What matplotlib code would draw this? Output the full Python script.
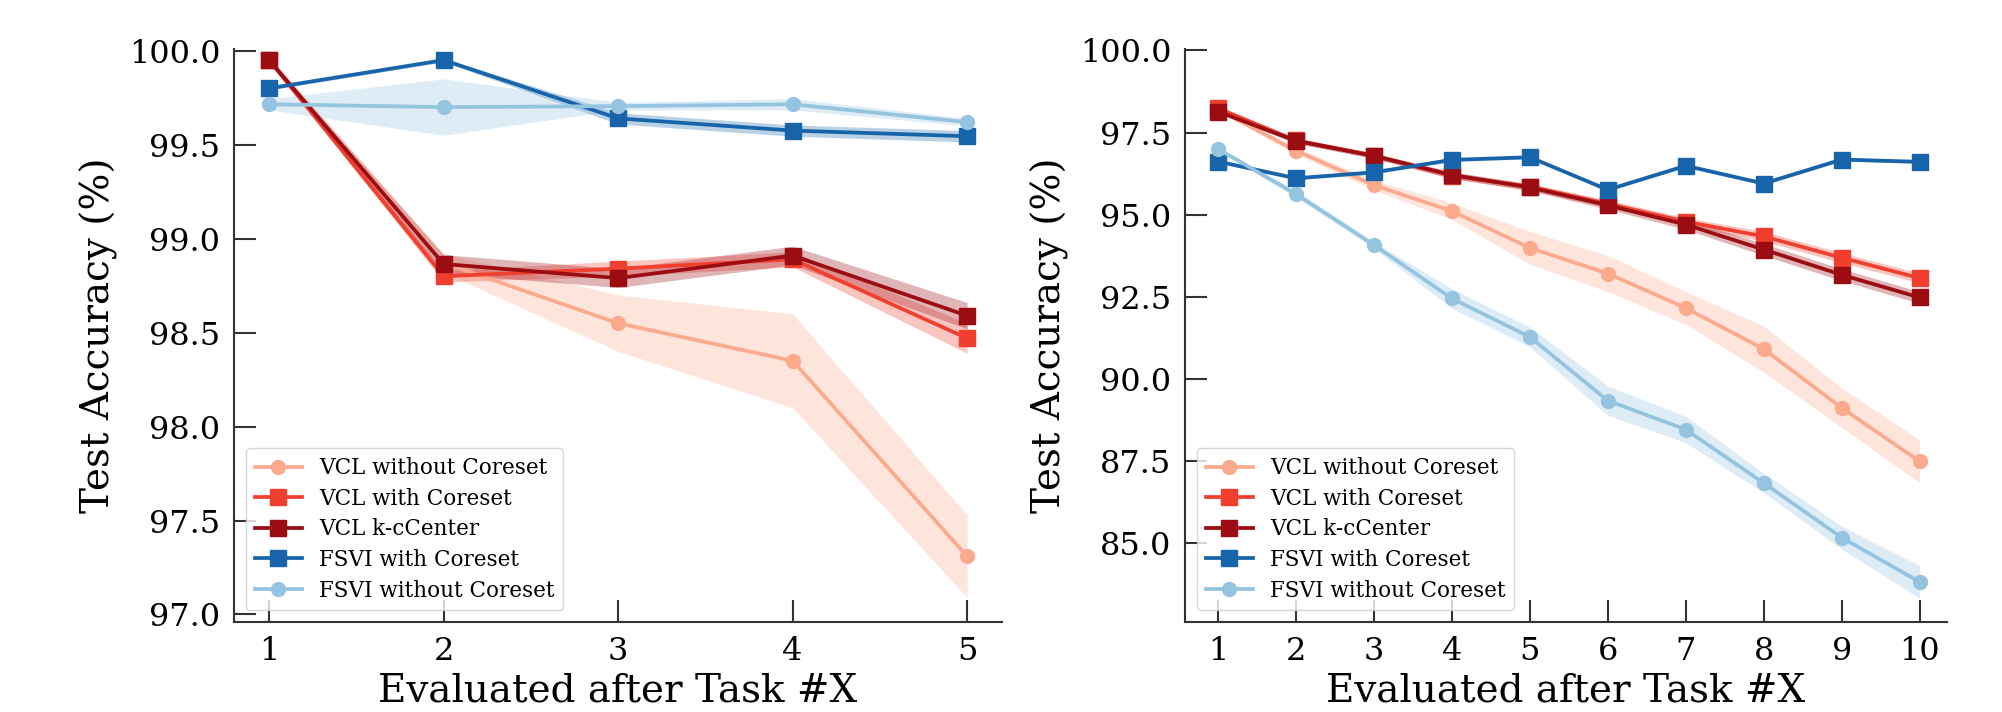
import matplotlib
matplotlib.use("Agg")
import matplotlib.pyplot as plt
import numpy as np

plt.rcParams['font.family'] = ['DejaVu Serif']

# left panel: 5 tasks
tasks_a = [1, 2, 3, 4, 5]
vcl_no_a = [99.95, 98.87, 98.55, 98.35, 97.31]
vcl_no_a_sd = [0.02, 0.05, 0.15, 0.25, 0.22]
vcl_cs_a = [99.95, 98.80, 98.84, 98.89, 98.47]
vcl_cs_a_sd = [0.01, 0.03, 0.04, 0.04, 0.08]
vcl_kc_a = [99.95, 98.865, 98.79, 98.91, 98.59]
vcl_kc_a_sd = [0.01, 0.05, 0.05, 0.05, 0.07]
fsvi_cs_a = [99.80, 99.95, 99.64, 99.575, 99.545]
fsvi_cs_a_sd = [0.01, 0.01, 0.03, 0.03, 0.03]
fsvi_no_a = [99.715, 99.70, 99.705, 99.715, 99.62]
fsvi_no_a_sd = [0.03, 0.15, 0.02, 0.03, 0.02]

# right panel: 10 tasks
tasks_b = [1, 2, 3, 4, 5, 6, 7, 8, 9, 10]
vcl_no_b = [98.20, 96.95, 95.90, 95.11, 93.99, 93.21, 92.16, 90.91, 89.12, 87.49]
vcl_no_b_sd = [0.05, 0.10, 0.15, 0.25, 0.50, 0.55, 0.50, 0.70, 0.60, 0.65]
vcl_cs_b = [98.24, 97.26, 96.80, 96.19, 95.85, 95.33, 94.79, 94.34, 93.69, 93.07]
vcl_cs_b_sd = [0.05, 0.08, 0.08, 0.10, 0.10, 0.12, 0.12, 0.15, 0.15, 0.15]
vcl_kc_b = [98.14, 97.25, 96.79, 96.21, 95.83, 95.29, 94.70, 93.94, 93.17, 92.48]
vcl_kc_b_sd = [0.05, 0.08, 0.08, 0.10, 0.10, 0.12, 0.15, 0.18, 0.18, 0.18]
fsvi_cs_b = [96.62, 96.11, 96.29, 96.67, 96.75, 95.76, 96.49, 95.95, 96.68, 96.61]
fsvi_cs_b_sd = [0.05, 0.05, 0.05, 0.05, 0.05, 0.05, 0.05, 0.05, 0.05, 0.05]
fsvi_no_b = [97.00, 95.63, 94.08, 92.45, 91.28, 89.34, 88.46, 86.83, 85.17, 83.82]
fsvi_no_b_sd = [0.05, 0.10, 0.10, 0.30, 0.30, 0.45, 0.40, 0.30, 0.35, 0.50]

labels = ["VCL without Coreset", "VCL with Coreset", "VCL k-cCenter",
          "FSVI with Coreset", "FSVI without Coreset"]
colors = ["#fcaa8d", "#f03f2e", "#9b0c13", "#1764ab", "#94c4df"]
markers = ["o", "s", "s", "s", "o"]

fig = plt.figure(figsize=(20.02, 7.12), dpi=100)
ax1 = fig.add_axes([0.117, 0.1264, 0.3835, 0.805])
ax2 = fig.add_axes([0.592, 0.1264, 0.3805, 0.805])


def draw(ax, x, series, sds):
    for mean, sd, lab, c, m in zip(series, sds, labels, colors, markers):
        mean = np.array(mean)
        sd = np.array(sd)
        ax.fill_between(x, mean - sd, mean + sd, color=c, alpha=0.3, lw=0)
        ms = 11 if m == "s" else 10
        ax.plot(x, mean, color=c, marker=m, ms=ms, lw=2.7, label=lab)
    ax.spines['top'].set_visible(False)
    ax.spines['right'].set_visible(False)
    for s in ['left', 'bottom']:
        ax.spines[s].set_linewidth(1.5)
        ax.spines[s].set_color('#333333')
    ax.tick_params(direction='in', length=16, width=1.5, color='#333333',
                   labelsize=23, pad=10)
    ax.set_xticks(x)
    ax.set_xlabel("Evaluated after Task #X", fontsize=28, labelpad=4)
    ax.set_ylabel("Test Accuracy (%)", fontsize=28, labelpad=8)
    ax.legend(loc='lower left', fontsize=15.5, borderaxespad=0.55,
              handlelength=2.2, labelspacing=0.4, framealpha=0.8,
              edgecolor='#cccccc')


draw(ax1, tasks_a,
     [vcl_no_a, vcl_cs_a, vcl_kc_a, fsvi_cs_a, fsvi_no_a],
     [vcl_no_a_sd, vcl_cs_a_sd, vcl_kc_a_sd, fsvi_cs_a_sd, fsvi_no_a_sd])
ax1.set_xlim(0.8, 5.2)
ax1.set_ylim(96.96, 100.01)
ax1.set_yticks(np.arange(97.0, 100.01, 0.5))
ax1.yaxis.set_major_formatter(matplotlib.ticker.FormatStrFormatter('%.1f'))

draw(ax2, tasks_b,
     [vcl_no_b, vcl_cs_b, vcl_kc_b, fsvi_cs_b, fsvi_no_b],
     [vcl_no_b_sd, vcl_cs_b_sd, vcl_kc_b_sd, fsvi_cs_b_sd, fsvi_no_b_sd])
ax2.set_xlim(0.58, 10.35)
ax2.set_ylim(82.6, 100.05)
ax2.set_yticks(np.arange(85.0, 100.01, 2.5))
ax2.yaxis.set_major_formatter(matplotlib.ticker.FormatStrFormatter('%.1f'))

fig.savefig("out.png", dpi=100)
